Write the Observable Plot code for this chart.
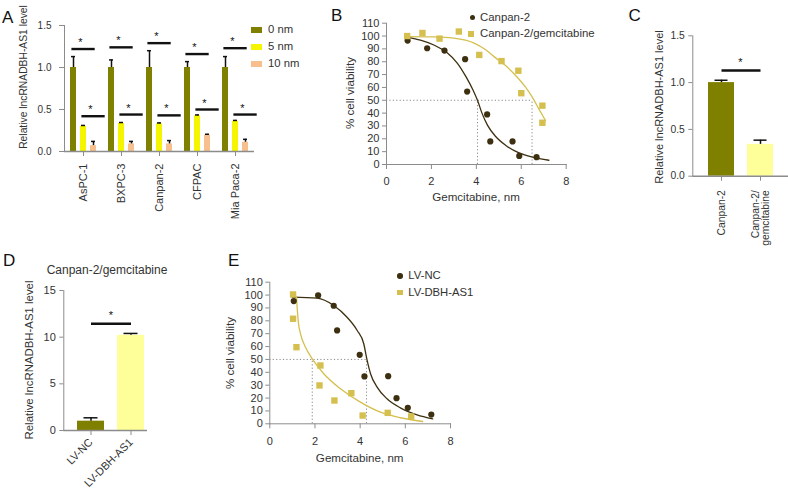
<!DOCTYPE html>
<html><head><meta charset="utf-8">
<script src="https://cdn.jsdelivr.net/npm/d3@7"></script>
<script src="https://cdn.jsdelivr.net/npm/@observablehq/plot@0.6"></script>
<style>
html,body{margin:0;padding:0;background:#fff;}
#root{position:relative;width:788px;height:498px;overflow:hidden;font-family:"Liberation Sans",Arial,sans-serif;color:#333;background:#fff;}
.panel{position:absolute;}
.panel svg{overflow:visible;color:#8c8c8c;}
.panel [aria-label$="tick label"]{fill:#333;}
.panel [aria-label="fx-axis tick label"]{font-size:11px;}
.lbl{position:absolute;white-space:nowrap;line-height:1;}
.mk{position:absolute;}
</style></head><body><div id="root"></div>
<script>
const FONT = '"Liberation Sans", Arial, sans-serif';
const AXIS = "#8c8c8c", INK = "#111", TXT = "#333";

// ---------- Panel A data ----------
const cellLines = ["AsPC-1", "BXPC-3", "Canpan-2", "CFPAC", "Mia Paca-2"];
const doses = ["0 nm", "5 nm", "10 nm"];
const doseColors = ["#808000", "#f5f500", "#f7bf8e"];
const mean0 = [1.0, 1.0, 1.0, 1.0, 1.0];
const err0 = [0.13, 0.09, 0.20, 0.07, 0.13];
const mean5 = [0.30, 0.335, 0.33, 0.425, 0.36];
const err5 = [0.01, 0.01, 0.01, 0.01, 0.01];
const mean10 = [0.07, 0.09, 0.09, 0.195, 0.11];
const err10 = [0.05, 0.03, 0.04, 0.01, 0.035];
const sigUpperA = [1.22, 1.24, 1.29, 1.16, 1.23];
const sigLowerA = [0.42, 0.44, 0.43, 0.50, 0.44];
const yTicksA = [0, 0.5, 1, 1.5];

// ---------- Panel B data ----------
const seriesB = ["Canpan-2", "Canpan-2/gemcitabine"];
const canpanX = [0.94, 1.81, 2.58, 3.5, 3.59, 4.48, 4.62, 5.61, 5.91, 6.68];
const canpanY = [96.5, 90.5, 88.7, 82, 56.8, 39, 18, 18, 6.7, 5.7];
const gemX = [0.92, 1.6, 2.36, 3.22, 4.13, 5.12, 5.87, 6.0, 6.94, 6.94];
const gemY = [100, 102.4, 98, 103.5, 85.3, 80.5, 73, 55.5, 45.8, 32.5];
const canpanFitX = [0.95, 1.51, 2.11, 2.7, 3.15, 3.55, 3.85, 4.05, 4.25, 4.5, 4.85, 5.3, 5.9, 6.5, 7.23];
const canpanFitY = [99, 96.8, 93, 87, 79, 68, 58, 50, 40, 30.5, 22, 15, 9, 5.8, 3.3];
const gemFitX = [0.92, 2.1, 3.0, 3.9, 4.4, 4.86, 5.3, 5.75, 6.19, 6.49, 6.78, 7.08];
const gemFitY = [99.5, 99.3, 98.3, 94.5, 89.5, 83, 77, 69.3, 60.2, 52.4, 43.3, 34.2];
const ic50B = [4.05, 6.48];

// ---------- Panel C data ----------
const groupsC = ["Canpan-2", "Canpan-2/gemcitabine"];
const valuesC = [1.0, 0.34];
const errorsC = [0.025, 0.045];
const colorsC = ["#808000", "#ffff99"];
const sigC = 1.13;

// ---------- Panel D data ----------
const groupsD = ["LV-NC", "LV-DBH-AS1"];
const valuesD = [1.0, 10.2];
const errorsD = [0.36, 0.2];
const colorsD = ["#808000", "#ffff99"];
const sigD = 11.43;
const yTicksD = [0, 5, 10, 15];

// ---------- Panel E data ----------
const seriesE = ["LV-NC", "LV-DBH-AS1"];
const ncX = [1.06, 2.14, 2.83, 2.98, 3.98, 4.19, 5.24, 5.61, 6.11, 7.15];
const ncY = [95.3, 99.7, 91.7, 72.5, 53.6, 36.8, 37, 19.9, 12.4, 7.2];
const dbhX = [1.03, 1.03, 1.18, 2.24, 2.2, 2.86, 3.61, 4.11, 5.22, 6.26];
const dbhY = [100.5, 81.6, 59.5, 45.3, 29.8, 18.1, 23.8, 6.4, 8.5, 5.7];
const ncFitX = [0.99, 2.1, 2.83, 3.42, 3.87, 4.16, 4.3, 4.46, 4.75, 5.19, 5.78, 6.52, 7.21];
const ncFitY = [98.4, 97.6, 91.9, 82.8, 72.5, 62.2, 50, 38.9, 28.5, 19.4, 12.4, 7.0, 3.9];
const dbhFitX = [1.18, 1.22, 1.27, 1.36, 1.58, 1.88, 2.39, 3.13, 4.01, 4.9, 5.78, 6.77];
const dbhFitY = [99, 88, 78, 69.9, 59.5, 50.5, 38.9, 27.2, 16.8, 9.0, 4.7, 1.8];
const ic50E = [1.88, 4.28];

const DARK = "#3d3010", GOLD = "#d5bf4e";
const xTicksCurve = [0, 2, 4, 6, 8];
const yTicksCurve = d3.range(0, 111, 10);

const root = document.getElementById("root");
function addPanel(svg, left, top, w) {
  const div = document.createElement("div");
  div.className = "panel";
  div.style.left = left + "px"; div.style.top = top + "px"; div.style.width = w + "px";
  div.appendChild(svg); root.appendChild(div);
}
function addText(text, x, y, {size = 11, anchor = "left", rotate = 0, color = TXT} = {}) {
  const d = document.createElement("div");
  d.className = "lbl";
  d.textContent = text;
  d.style.fontSize = size + "px";
  d.style.color = color;
  d.style.left = x + "px";
  d.style.top = y + "px";
  if (anchor === "center") d.style.transform = `translate(-50%,-50%) rotate(${rotate}deg)`;
  else d.style.transform = `translate(0,-49%)`;
  root.appendChild(d);
}
function addLetter(t, x, capTop) {
  const size = 17;
  const d = document.createElement("div");
  d.className = "lbl"; d.textContent = t;
  d.style.fontSize = size + "px"; d.style.color = "#111";
  d.style.left = x + "px"; d.style.top = (capTop - 0.13 * size) + "px";
  root.appendChild(d);
}
function addMarker(shape, cx, cy, size, color) {
  const d = document.createElement("div");
  d.className = "mk";
  d.style.left = (cx - size / 2) + "px"; d.style.top = (cy - size / 2) + "px";
  d.style.width = size + "px"; d.style.height = size + "px";
  d.style.background = color;
  if (shape === "circle") d.style.borderRadius = "50%";
  root.appendChild(d);
}

// ================= Panel A =================
const rowsA = cellLines.flatMap((c, i) => doses.map((d, j) => ({
  cell: c, dose: d, value: [mean0, mean5, mean10][j][i], err: [err0, err5, err10][j][i]
})));
const sigA = cellLines.flatMap((c, i) => [
  {cell: c, from: doses[0], to: doses[1], y: sigUpperA[i]},
  {cell: c, from: doses[1], to: doses[2], y: sigLowerA[i]}
]);
const plotA = Plot.plot({
  width: 256, height: 235,
  marginLeft: 63, marginRight: 2, marginTop: 25, marginBottom: 84,
  style: {fontFamily: FONT, fontSize: "10px", overflow: "visible"},
  fx: {domain: cellLines, padding: 0, label: null, tickRotate: -90, tickSize: 5, tickPadding: 7},
  x: {domain: doses, axis: null, paddingInner: 0.38, paddingOuter: 0.52},
  y: {domain: [0, 1.5], ticks: yTicksA, tickFormat: d3.format(".1f"), label: null, line: true, tickSize: 5, tickPadding: 8},
  color: {domain: doses, range: doseColors},
  marks: [
    Plot.barY(rowsA, {fx: "cell", x: "dose", y: "value", fill: "dose"}),
    Plot.ruleX(rowsA, {fx: "cell", x: "dose", y1: "value", y2: d => d.value + d.err, stroke: INK, strokeWidth: 1.5}),
    Plot.tickY(rowsA, {fx: "cell", x: "dose", y: d => d.value + d.err, stroke: INK, strokeWidth: 1.5, insetLeft: 1, insetRight: 1}),
    Plot.ruleY([0], {stroke: AXIS, strokeWidth: 1.5}),
    Plot.ruleY(sigA, {fx: "cell", y: "y", x1: "from", x2: "to", stroke: INK, strokeWidth: 2.4, insetLeft: 1.4, insetRight: -8.7}),
    Plot.text(sigA, {fx: "cell", x: "to", y: "y", text: () => "*", dx: -3, dy: -6.5, fontSize: 11, fill: INK})
  ]
});
addPanel(plotA, 0, 0, 256);
addText("Relative lncRNADBH-AS1 level", 24, 77, {size: 10.3, anchor: "center", rotate: -90});
// legend A
doses.forEach((d, i) => {
  const cy = [30, 47, 64][i];
  const m = document.createElement("div");
  m.className = "mk";
  m.style.left = "251px"; m.style.top = (cy - 3) + "px";
  m.style.width = "11px"; m.style.height = "6px"; m.style.background = doseColors[i];
  root.appendChild(m);
  addText(d, 268, cy, {size: 11.3});
});

// ================= Panel B =================
const ptsCanpan = canpanX.map((x, i) => ({x, y: canpanY[i]}));
const ptsGem = gemX.map((x, i) => ({x, y: gemY[i]}));
const fitCanpan = canpanFitX.map((x, i) => ({x, y: canpanFitY[i]}));
const fitGem = gemFitX.map((x, i) => ({x, y: gemFitY[i]}));
function curvePlot(opts) {
  const {width, height, marginLeft, marginRight, marginTop, marginBottom, pts1, pts2, fit1, fit2, ic50, tickPadding} = opts;
  return Plot.plot({
    width, height, marginLeft, marginRight, marginTop, marginBottom,
    style: {fontFamily: FONT, fontSize: "11px", overflow: "visible"},
    x: {domain: [0, 8], ticks: xTicksCurve, label: null, line: true, tickSize: 5, tickPadding},
    y: {domain: [0, 110], ticks: yTicksCurve, label: null, line: true, tickSize: 4, tickPadding: 3},
    marks: [
      Plot.ruleY([{y: 50, x2: d3.max(ic50)}], {y: "y", x1: () => 0, x2: "x2", stroke: "#8a8a8a", strokeWidth: 1, strokeDasharray: "1.2,2.2"}),
      Plot.ruleX(ic50, {x: d => d, y1: () => 0, y2: () => 50, stroke: "#8a8a8a", strokeWidth: 1, strokeDasharray: "1.2,2.2"}),
      Plot.line(fit1, {x: "x", y: "y", stroke: DARK, strokeWidth: 1.3, curve: "monotone-x"}),
      Plot.line(fit2, {x: "x", y: "y", stroke: GOLD, strokeWidth: 1.3, curve: "monotone-x"}),
      Plot.dot(pts1, {x: "x", y: "y", fill: DARK, r: 3.1, symbol: "circle"}),
      Plot.dot(pts2, {x: "x", y: "y", fill: GOLD, r: 3.6, symbol: "square"})
    ]
  });
}
const plotB = curvePlot({width: 240, height: 204, marginLeft: 56, marginRight: 4.3, marginTop: 22.7, marginBottom: 40,
  pts1: ptsCanpan, pts2: ptsGem, fit1: fitCanpan, fit2: fitGem, ic50: ic50B, tickPadding: 8});
addPanel(plotB, 330, 0, 240);
addText("% cell viability", 350, 93, {size: 11.6, anchor: "center", rotate: -90});
addText("Gemcitabine, nm", 476, 197, {size: 11.6, anchor: "center"});
addMarker("circle", 472.5, 17.5, 5.5, DARK);
addText(seriesB[0], 480, 17.5, {size: 11.4});
addMarker("square", 471, 34, 5.5, GOLD);
addText(seriesB[1], 480, 34, {size: 11.4});

// ================= Panel C =================
const rowsC = groupsC.map((g, i) => ({g, v: valuesC[i], e: errorsC[i]}));
const plotC = Plot.plot({
  width: 150, height: 246,
  marginLeft: 52.3, marginRight: 0.5, marginTop: 35.3, marginBottom: 70.3,
  style: {fontFamily: FONT, fontSize: "10.3px", overflow: "visible"},
  x: {domain: groupsC, paddingInner: 0.325, paddingOuter: 0.38, label: null, tickRotate: -90, tickSize: 5, tickPadding: 9,
      tickFormat: d => d.replace("/", "/\n")},
  y: {domain: [0, 1.5], ticks: yTicksA, tickFormat: d3.format(".1f"), label: null, line: true, tickSize: 4, tickPadding: 4},
  color: {domain: groupsC, range: colorsC},
  marks: [
    Plot.barY(rowsC, {x: "g", y: "v", fill: "g"}),
    Plot.ruleX(rowsC, {x: "g", y1: "v", y2: d => d.v + d.e, stroke: INK, strokeWidth: 1.5}),
    Plot.tickY(rowsC, {x: "g", y: d => d.v + d.e, stroke: INK, strokeWidth: 1.5, insetLeft: 6.5, insetRight: 6.5}),
    Plot.ruleY([0], {stroke: AXIS, strokeWidth: 1.5}),
    Plot.link([{from: groupsC[0], to: groupsC[1], y: sigC}], {x1: "from", x2: "to", y1: "y", y2: "y", stroke: INK, strokeWidth: 2.6}),
    Plot.text([{to: groupsC[1], y: sigC}], {x: "to", y: "y", text: () => "*", dx: -20, dy: -8, fontSize: 11, fill: INK})
  ]
});
addPanel(plotC, 640, 0, 150);
addText("Relative lncRNADBH-AS1 level", 659, 107, {size: 11, anchor: "center", rotate: -90});

// ================= Panel D =================
const rowsD = groupsD.map((g, i) => ({g, v: valuesD[i], e: errorsD[i]}));
const plotD = Plot.plot({
  width: 160, height: 268,
  marginLeft: 63.3, marginRight: 3.4, marginTop: 60, marginBottom: 68,
  style: {fontFamily: FONT, fontSize: "11px", overflow: "visible"},
  x: {domain: groupsD, paddingInner: 0.33, paddingOuter: 0.33, label: null, tickRotate: -45, tickSize: 5, tickPadding: 5},
  y: {domain: [0, 15], ticks: yTicksD, label: null, line: true, tickSize: 4, tickPadding: 4},
  color: {domain: groupsD, range: colorsD},
  marks: [
    Plot.barY(rowsD, {x: "g", y: "v", fill: "g"}),
    Plot.ruleX(rowsD, {x: "g", y1: "v", y2: d => d.v + d.e, stroke: INK, strokeWidth: 1.5}),
    Plot.tickY(rowsD, {x: "g", y: d => d.v + d.e, stroke: INK, strokeWidth: 1.5, insetLeft: 6.5, insetRight: 6.5}),
    Plot.ruleY([0], {stroke: AXIS, strokeWidth: 1.5, insetRight: 9.6}),
    Plot.link([{from: groupsD[0], to: groupsD[1], y: sigD}], {x1: "from", x2: "to", y1: "y", y2: "y", stroke: INK, strokeWidth: 2.6}),
    Plot.text([{to: groupsD[1], y: sigD}], {x: "to", y: "y", text: () => "*", dx: -20, dy: -8, fontSize: 11, fill: INK})
  ]
});
addPanel(plotD, 0, 230, 160);
addText("Relative lncRNADBH-AS1 level", 30, 360, {size: 11.4, anchor: "center", rotate: -90});
addText("Canpan-2/gemcitabine", 107, 270, {size: 12, anchor: "center"});

// ================= Panel E =================
const ptsNC = ncX.map((x, i) => ({x, y: ncY[i]}));
const ptsDBH = dbhX.map((x, i) => ({x, y: dbhY[i]}));
const fitNC = ncFitX.map((x, i) => ({x, y: ncFitY[i]}));
const fitDBH = dbhFitX.map((x, i) => ({x, y: dbhFitY[i]}));
const plotE = curvePlot({width: 235, height: 210, marginLeft: 49.3, marginRight: 5, marginTop: 21.7, marginBottom: 46.7,
  pts1: ptsNC, pts2: ptsDBH, fit1: fitNC, fit2: fitDBH, ic50: ic50E, tickPadding: 8.5});
addPanel(plotE, 220, 260, 235);
addText("% cell viability", 230, 352.5, {size: 11.6, anchor: "center", rotate: -90});
addText("Gemcitabine, nm", 359.7, 457.7, {size: 11.6, anchor: "center"});
addMarker("circle", 400, 276, 5.5, DARK);
addText(seriesE[0], 408.3, 276, {size: 11.3});
addMarker("square", 400, 292.7, 5.5, GOLD);
addText(seriesE[1], 408.3, 292.7, {size: 11.3});

// panel letters
addLetter("A", 2, 11.5);
addLetter("B", 331, 9.3);
addLetter("C", 628.5, 9.3);
addLetter("D", 3, 254);
addLetter("E", 228, 254.5);
</script></body></html>
